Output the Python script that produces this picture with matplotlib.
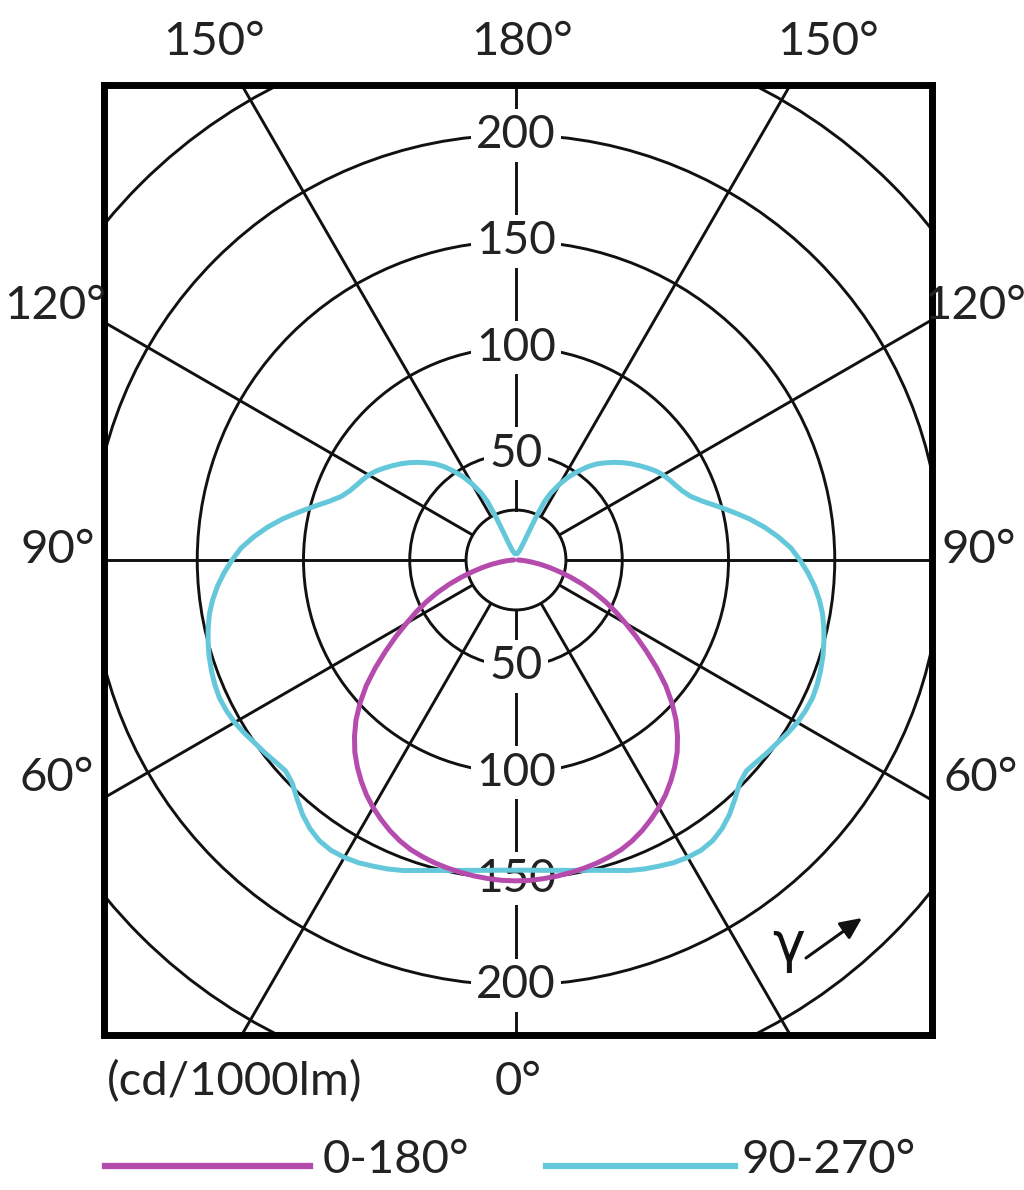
import numpy as np
import matplotlib
matplotlib.use("Agg")
import matplotlib.pyplot as plt
from matplotlib.patches import Circle

# ---- data ----
gamma_c0 = [0, 2.5, 5, 7.5, 10, 12.5, 15, 17.5, 20, 22.5, 25, 27.5, 30, 32.5, 35, 37.5,
            40, 42.5, 45, 47.5, 50, 52.5, 55, 57.5, 60, 62.5, 65, 67.5, 70, 72.5, 75,
            77.5, 80, 82.5, 85, 87.5, 90]
I_c0 = [151, 150.9, 150.5, 150, 149.3, 148.5, 147.6, 146.4, 145, 143, 140.5, 137.6, 134.5,
        131, 127, 122.7, 118, 112.5, 106.5, 99.5, 92, 83.5, 75, 67, 59.5, 53, 46.5, 40,
        33.5, 27, 21, 16, 11.5, 7.5, 4.5, 2.5, 1]

gamma_c90 = [0, 2.5, 5, 7.5, 10, 12.5, 15, 17.5, 20, 22.5, 25, 27.5, 30, 32.5, 35, 37.5,
             40, 42.5, 45, 47.5, 50, 52.5, 55, 57.5, 60, 62.5, 65, 67.5, 70, 72.5, 75,
             77.5, 80, 82.5, 85, 87.5, 90, 92.5, 95, 97.5, 100, 102.5, 105, 107.5, 110,
             112.5, 115, 117.5, 120, 122.5, 125, 127.5, 130, 132.5, 135, 137.5, 140,
             142.5, 145, 147.5, 150, 152.5, 154, 155, 155.7, 157, 160, 170, 180]
I_c90 = [146, 146.1, 146.6, 147.3, 148.3, 149.6, 151.2, 153.2, 155.5, 157.4, 159, 160.6,
         161.6, 162, 161.3, 159.3, 156.3, 152.5, 148.8, 147, 147.8, 149, 150.1, 151.6,
         152.9, 153.6, 153.9, 153.4, 152.5, 151.4, 150, 148.4, 146.5, 144, 141, 137.5,
         133.6, 129.5, 124, 118, 111.5, 104.5, 98, 92, 87.5, 84.8, 83, 81.5, 80, 78,
         75.5, 73, 70.5, 67.8, 65, 62, 59, 55.3, 51, 46.5, 41.5, 35.5, 30.5, 22, 13, 7,
         4.5, 3, 3]

ring_radii = [50, 100, 150, 200, 250]
inner_radius = 23.5
spoke_angles = [30, 60, 90, 120, 150]
ring_labels = [50, 100, 150, 200]
legend_labels = ["0-180°", "90-270°"]
unit_label = "(cd/1000lm)"

magenta = "#B54CAD"
cyan = "#64C8DA"

FONT = ["Lato", "DejaVu Sans"]
plt.rcParams['font.family'] = FONT

W, H = 1024, 1190
fig = plt.figure(figsize=(W / 100, H / 100), dpi=100)
L, R, T, B = 104, 932, 85, 1035
cx, cy = 516, 560
scale = 2.125  # px per cd
ax = fig.add_axes([L / W, 1 - B / H, (R - L) / W, (B - T) / H])
ax.set_xlim((L - cx) / scale, (R - cx) / scale)
ax.set_ylim(-(B - cy) / scale, (cy - T) / scale)
ax.set_xticks([])
ax.set_yticks([])
for s in ax.spines.values():
    s.set_linewidth(5)
    s.set_color("black")
    s.set_zorder(10)

grid_lw = 2.1
# rings
for r in ring_radii + [inner_radius]:
    ax.add_patch(Circle((0, 0), r, fill=False, lw=grid_lw, ec="#111111", zorder=1))
# spokes
far = 400
for a in spoke_angles:
    t = np.deg2rad(a)
    for sgn in (1, -1):
        ax.plot([sgn * inner_radius * np.sin(t), sgn * far * np.sin(t)],
                [-inner_radius * np.cos(t), -far * np.cos(t)],
                color="#111111", lw=grid_lw, zorder=1, solid_capstyle="butt")
# vertical axis
ax.plot([0, 0], [inner_radius, far], color="#111111", lw=grid_lw, zorder=1)
ax.plot([0, 0], [-inner_radius, -far], color="#111111", lw=grid_lw, zorder=1)

# ring labels
for v in ring_labels:
    for sgn in (1, -1):
        ax.text(0, sgn * v, str(v), ha="center", va="center", fontsize=33,
                color="#222222", zorder=3,
                bbox=dict(boxstyle="square,pad=0.12", fc="white", ec="none"))

# curves
def xy(g, I, side):
    g = np.deg2rad(np.asarray(g, float))
    I = np.asarray(I, float)
    return side * I * np.sin(g), -I * np.cos(g)

for g, I, col in ((gamma_c90, I_c90, cyan), (gamma_c0, I_c0, magenta)):
    xr, yr = xy(g, I, 1)
    xl, yl = xy(g, I, -1)
    xs = np.concatenate([xl[::-1], xr])
    ys = np.concatenate([yl[::-1], yr])
    ax.plot(xs, ys, color=col, lw=3.6, zorder=5, solid_joinstyle="round",
            solid_capstyle="round")

# gamma arrow
ax.text((789 - cx) / scale, -(946 - cy) / scale, "γ", fontsize=40, ha="center",
        va="center", color="#111111", zorder=6, family=["DejaVu Sans"])
ax.annotate("", xy=((862 - cx) / scale, -(918 - cy) / scale),
            xytext=((806 - cx) / scale, -(958 - cy) / scale),
            arrowprops=dict(arrowstyle="-|>,head_length=1.3,head_width=0.6",
                            lw=2.2, color="#111111", shrinkA=0, shrinkB=0), zorder=6)

# angle labels
def ftext(x, y, s, **kw):
    fig.text(x / W, 1 - y / H, s, ha="center", va="center", fontsize=34,
             color="#222222", **kw)

ftext(214, 42, "150°")
ftext(522, 42, "180°")
ftext(828, 42, "150°")
ftext(55, 306, "120°")
ftext(58, 550, "90°")
ftext(57, 778, "60°")
ftext(975, 306, "120°")
ftext(979, 550, "90°")
ftext(981, 778, "60°")
ftext(518, 1082, "0°")
ftext(235, 1082, unit_label)

# legend
fig.add_artist(plt.Line2D([105 / W, 310 / W], [1 - 1166 / H] * 2, color=magenta, lw=4.5))
fig.add_artist(plt.Line2D([546 / W, 735 / W], [1 - 1166 / H] * 2, color=cyan, lw=4.5))
fig.text(323 / W, 1 - 1160 / H, legend_labels[0], ha="left", va="center", fontsize=34,
         color="#222222")
fig.text(742 / W, 1 - 1160 / H, legend_labels[1], ha="left", va="center", fontsize=34,
         color="#222222")

fig.savefig("out.png", dpi=100, facecolor="white")
